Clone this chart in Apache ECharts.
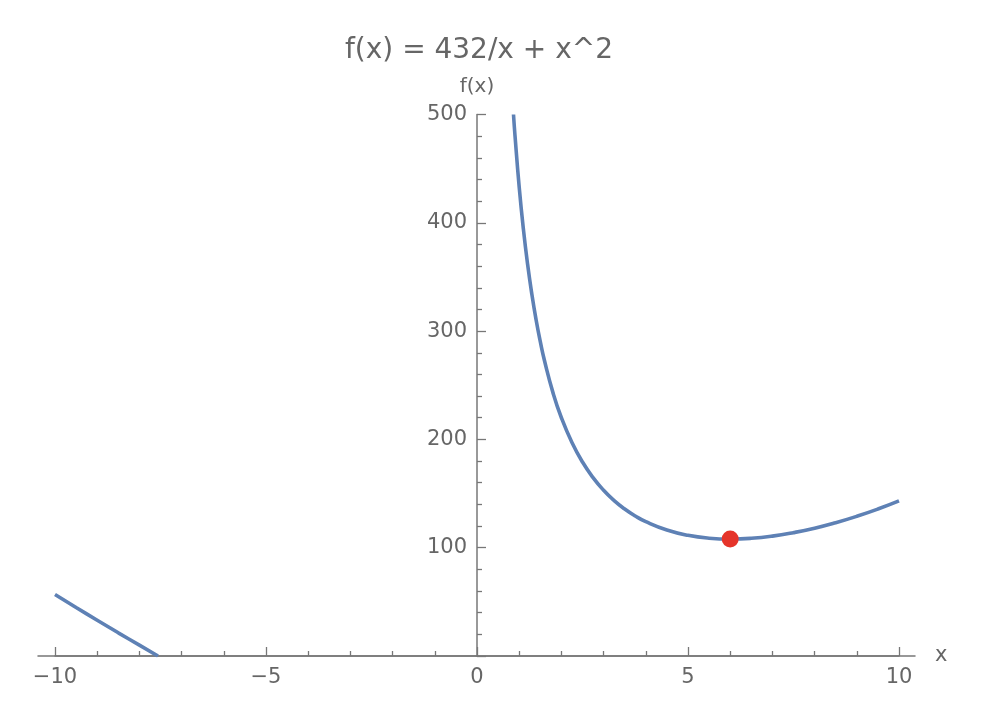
<!DOCTYPE html>
<html>
<head>
<meta charset="utf-8">
<script src="https://cdn.jsdelivr.net/npm/echarts@6/dist/echarts.min.js"></script>
<style>
html,body{margin:0;padding:0;background:#fff;}
#chart{width:988px;height:724px;}
</style>
</head>
<body>
<div id="chart"></div>
<script>
// Data
var titleText = 'f(x) = 432/x + x^2';
var xName = 'x';
var yName = 'f(x)';
var leftX = [-10, -9.5, -9, -8.5, -8, -7.56];
var leftY = [56.8, 44.8, 33, 21.4, 10, 0];
var rightX = [0.865, 0.9, 1, 1.1, 1.2, 1.3, 1.4, 1.5, 1.6, 1.8, 2, 2.25, 2.5, 2.75, 3, 3.25, 3.5, 3.75, 4, 4.5, 5, 5.5, 6, 6.5, 7, 7.5, 8, 8.5, 9, 9.5, 10];
var rightY = [500, 480.8, 433, 393.9, 361.4, 334, 310.5, 290.3, 272.6, 243.2, 220, 197.1, 179.1, 164.7, 153, 143.5, 135.7, 129.3, 124, 116.3, 111.4, 108.8, 108, 108.7, 110.7, 113.9, 118, 123.1, 129, 135.7, 143.2];
var minPoint = [6, 108];

function pairs(xs, ys) { return xs.map(function (x, i) { return [x, ys[i]]; }); }

var FONT = 'DejaVu Sans';
var TXT = '#666666';
var AX = '#777777';

var chart = echarts.init(document.getElementById('chart'), null, {renderer: 'canvas'});
chart.setOption({
  animation: false,
  backgroundColor: '#ffffff',
  title: {
    text: titleText,
    left: 474, top: 32, textAlign: 'center',
    textStyle: {fontFamily: FONT, fontSize: 28, fontWeight: 'normal', color: TXT}
  },
  grid: [
    {left: 55, right: 89, top: 114.5, bottom: 68, containLabel: false},
    {left: 38, right: 73, top: 114.5, bottom: 68, containLabel: false},
    {left: 477, right: 0, top: 114.5, bottom: 68, containLabel: false}
  ],
  xAxis: [
    {
      type: 'value', gridIndex: 0, min: -10, max: 10, interval: 5,
      axisLine: {show: true, onZero: false, lineStyle: {color: AX, width: 1.5}},
      axisTick: {show: true, inside: true, length: 9, lineStyle: {color: AX, width: 1.3}},
      minorTick: {show: true, splitNumber: 5, length: 5, lineStyle: {color: AX, width: 1.3}},
      splitLine: {show: false},
      axisLabel: {
        fontFamily: FONT, fontSize: 21, color: TXT, margin: 11,
        formatter: function (v) { return v < 0 ? '\u2212' + Math.abs(v) : String(v); }
      }
    },
    {
      type: 'value', gridIndex: 1, min: 0, max: 1,
      name: xName, nameLocation: 'end', nameGap: 20,
      nameTextStyle: {fontFamily: FONT, fontSize: 21, color: TXT, verticalAlign: 'middle'},
      axisLine: {show: true, onZero: false, lineStyle: {color: AX, width: 1.5}},
      axisTick: {show: false}, axisLabel: {show: false}, splitLine: {show: false}
    },
    {type: 'value', gridIndex: 2, show: false, min: 0, max: 1}
  ],
  yAxis: [
    {type: 'value', gridIndex: 0, show: false, min: 0, max: 500},
    {type: 'value', gridIndex: 1, show: false, min: 0, max: 500},
    {
      type: 'value', gridIndex: 2, position: 'left', min: 0, max: 500, interval: 100,
      name: yName, nameLocation: 'end', nameGap: 18,
      nameTextStyle: {fontFamily: FONT, fontSize: 20, color: TXT, align: 'center'},
      axisLine: {show: true, onZero: false, lineStyle: {color: AX, width: 1.5}},
      axisTick: {show: true, inside: true, length: 9, lineStyle: {color: AX, width: 1.3}},
      minorTick: {show: true, splitNumber: 5, length: 5, lineStyle: {color: AX, width: 1.3}},
      splitLine: {show: false},
      axisLabel: {
        fontFamily: FONT, fontSize: 21, color: TXT, margin: 10,
        formatter: function (v) { return v === 0 ? '' : String(v); }
      }
    }
  ],
  series: [
    {
      type: 'line', xAxisIndex: 0, yAxisIndex: 0, data: pairs(leftX, leftY),
      showSymbol: false, smooth: true, clip: true,
      lineStyle: {color: '#5E81B5', width: 3.6}
    },
    {
      type: 'line', xAxisIndex: 0, yAxisIndex: 0, data: pairs(rightX, rightY),
      showSymbol: false, smooth: true, clip: true,
      lineStyle: {color: '#5E81B5', width: 3.6}
    },
    {
      type: 'scatter', xAxisIndex: 0, yAxisIndex: 0, data: [minPoint],
      symbolSize: 17, itemStyle: {color: '#E5342A', opacity: 1}, z: 5
    }
  ]
});
</script>
</body>
</html>
